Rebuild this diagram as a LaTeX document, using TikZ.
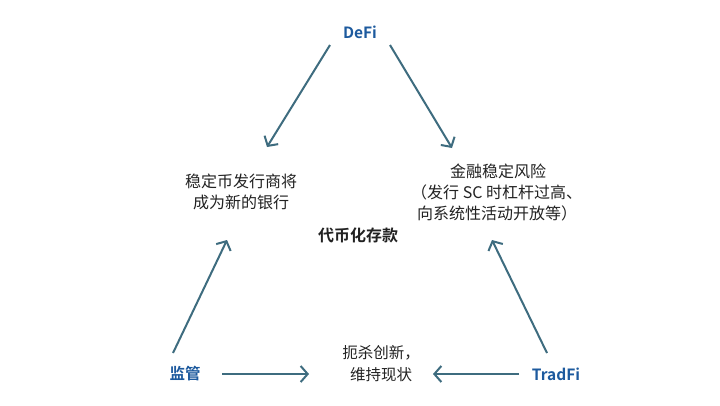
\documentclass[tikz,border=0pt]{standalone}
\usepackage{fontspec}
\setmainfont{Noto Sans CJK SC}[BoldFont={Noto Sans CJK SC Bold}]
\usetikzlibrary{arrows.meta}
\definecolor{lbl}{HTML}{1D5A9E}
\definecolor{arr}{HTML}{3E6C7F}
\definecolor{txt}{HTML}{222222}
\tikzset{
  label/.style={text=lbl, font=\fontsize{15.5}{18}\selectfont\bfseries, inner sep=0pt},
  body/.style={text=txt, font=\fontsize{16}{21}\selectfont, inner sep=0pt, align=center},
  conn/.style={draw=arr, line width=2pt, -{Straight Barb[length=7pt,width=16pt]}},
}
\begin{document}
\begin{tikzpicture}[x=1pt,y=-1pt]
\useasboundingbox[fill=white] (0,0) rectangle (720,405);
% labels
\node[label] (defi) at (360,32) {DeFi};
\node[label] (reg) at (185,374) {监管};
\node[label] (tradfi) at (556,374) {TradFi};
% texts
\node[body] (bank) at (241,192) {稳定币发行商将\\成为新的银行};
\node[body] (risk1) at (498,171) {金融稳定风险};
\node[body, anchor=west] (risk2) at (411,192) {（发行 SC 时杠杆过高、};
\node[body, anchor=west] (risk3) at (417,213) {向系统性活动开放等）};
\node[body, font=\fontsize{16}{21}\selectfont\bfseries] (dep) at (358,235) {代币化存款};
\node[body, font=\fontsize{15.5}{22}\selectfont] (stifle) at (381,364) {扼杀创新，\\维持现状};
% connector end points
\coordinate (a1s) at (330,45);  \coordinate (a1e) at (267,147);
\coordinate (a2s) at (390,45);  \coordinate (a2e) at (452,148);
\coordinate (a3s) at (173,353); \coordinate (a3e) at (227,240);
\coordinate (a4s) at (547,353); \coordinate (a4e) at (492,240);
\coordinate (a5s) at (222,374); \coordinate (a5e) at (309,374);
\coordinate (a6s) at (519,374); \coordinate (a6e) at (433,374);
\draw[conn] (a1s) -- (a1e);
\draw[conn] (a2s) -- (a2e);
\draw[conn] (a3s) -- (a3e);
\draw[conn] (a4s) -- (a4e);
\draw[conn] (a5s) -- (a5e);
\draw[conn] (a6s) -- (a6e);
\end{tikzpicture}
\end{document}
